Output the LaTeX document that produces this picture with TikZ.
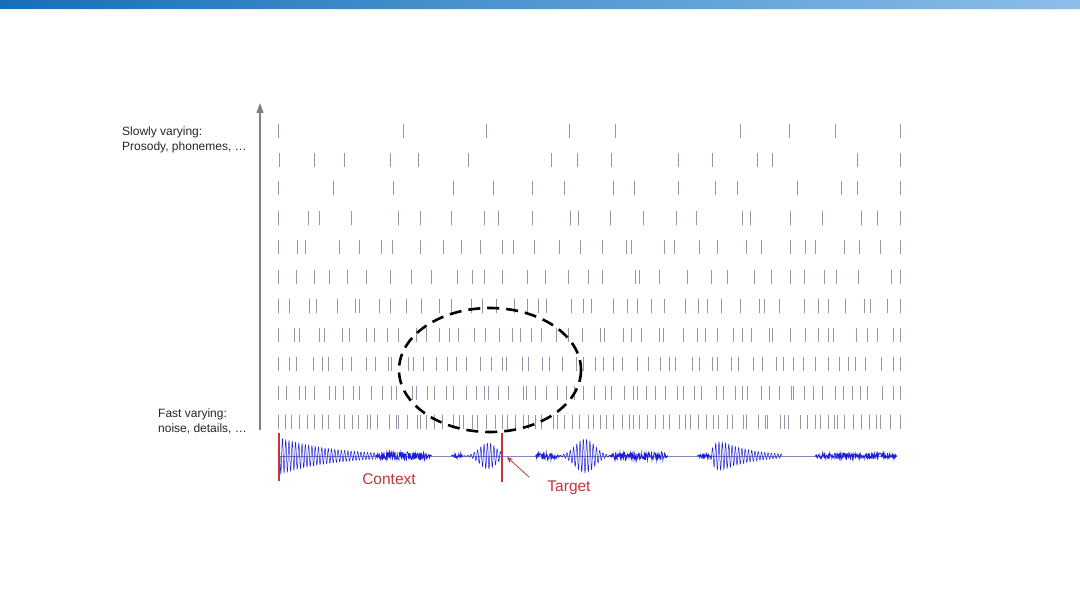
\documentclass[tikz,border=0pt]{standalone}
\usepackage{fontspec}
\setmainfont{Liberation Sans}
\usetikzlibrary{arrows.meta}
\definecolor{barL}{RGB}{22,112,184}
\definecolor{barR}{RGB}{140,190,232}
\definecolor{spikec}{RGB}{150,150,168}
\definecolor{wavec}{RGB}{30,30,215}
\definecolor{basec}{RGB}{130,135,190}
\definecolor{redc}{RGB}{196,52,60}
\definecolor{axisc}{RGB}{128,128,128}
\tikzset{
  spike/.style={draw=spikec, line width=0.85pt},
  osc/.style={draw=wavec, line width=0.5pt},
  noisy/.style={draw=wavec, line width=0.7pt},
  marker/.style={draw=redc, line width=1.6pt},
  lbl/.style={font=\fontsize{12}{15}\selectfont, align=left, inner sep=0pt, text=black!85},
  redlbl/.style={font=\fontsize{15.5}{18}\selectfont, inner sep=0pt, text=redc},
}
\begin{document}
\begin{tikzpicture}[x=1pt,y=-1pt]
\useasboundingbox (0,0) rectangle (1080,607);
\fill[white] (0,0) rectangle (1080,607);
% top bar
\shade[left color=barL, right color=barR] (0,0) rectangle (1080,9);
\fill[cyan!12] (0,9) rectangle (1080,10.5);

% axis
\coordinate (ax0) at (260,430);
\coordinate (ax1) at (260,103);
\draw[axisc, line width=1.2pt, -{Triangle[length=10pt,width=7pt]}] (ax0) -- (ax1);

% labels
\node[lbl, anchor=north west] (slow) at (122,127) {Slowly varying:\\Prosody, phonemes, \dots};
\node[lbl, anchor=north west] (fast) at (158,409) {Fast varying:\\noise, details, \dots};

% spikes: rows 1-3 explicit
\foreach \x in {278,403,486,569,615,740,789,835,900}
  \draw[spike] (\x,124) -- (\x,138);
\foreach \x in {279,314,344,390,418,468,551,577,611,678,712,757,772,857,900}
  \draw[spike] (\x,153) -- (\x,167);
\foreach \x in {278,333,393,453,493,532,564,613,634,678,715,737,797,841,857,900}
  \draw[spike] (\x,181) -- (\x,195);
% rows 4-11 jittered
\pgfmathsetseed{2024}
\foreach \row/\n in {4/21,5/30,6/31,7/42,8/50,9/58,10/66,11/86}{
  \pgfmathsetmacro\yc{131+(\row-1)*29.1}
  \pgfmathsetmacro\stp{610/\n}
  \draw[spike] (278,\yc-7) -- (278,\yc+7);
  \draw[spike] (900,\yc-7) -- (900,\yc+7);
  \foreach \i in {1,...,\n}{
    \pgfmathsetmacro\xx{284+\stp*(\i-0.05-0.9*rnd)}
    \draw[spike] (\xx,\yc-7) -- (\xx,\yc+7);
  }
}

% waveform baseline
\coordinate (w0) at (280,456);
\coordinate (w1) at (897,456);
\draw[basec, line width=0.6pt] (w0) -- (w1);
% oscillations
\draw[osc] plot[domain=280:376, samples=500] (\x,{456+18*exp(-(\x-280)/55)*sin((\x-280)*110)});
\draw[osc] plot[domain=462:501, samples=220] (\x,{456+13*exp(-((\x-488)/12)^2)*sin((\x-462)*110)});
\draw[osc] plot[domain=558:612, samples=300] (\x,{456+17*exp(-((\x-585)/14)^2)*sin((\x-558)*110)});
\draw[osc] plot[domain=710:782, samples=400] (\x,{456+15*(1-exp(-(\x-710)/5))*exp(-(\x-722)/30)*sin((\x-710)*110)});
% noise
\draw[noisy] plot[domain=375:432, samples=160] (\x,{456+4.5*min(1,(\x-375)/6,(432-\x)/6)*rand});
\draw[noisy] plot[domain=451:463, samples=36] (\x,{456+2.5*min(1,(\x-451)/3,(463-\x)/3)*rand});
\draw[noisy] plot[domain=535:560, samples=70] (\x,{456+4*min(1,(\x-535)/3,(560-\x)/6)*rand});
\draw[noisy] plot[domain=610:668, samples=160] (\x,{456+4.5*min(1,(\x-610)/6,(668-\x)/4)*rand});
\draw[noisy] plot[domain=697:712, samples=40] (\x,{456+2.5*min(1,(\x-697)/3,(712-\x)/3)*rand});
\draw[noisy] plot[domain=815:897, samples=220] (\x,{456+3*min(1,(\x-815)/3,(897-\x)/3)*rand});

% ellipse
\draw[black, line width=2.6pt, dash pattern=on 12pt off 7pt] (490,370) ellipse [x radius=91, y radius=62];

% markers
\coordinate (c0) at (279,433);
\coordinate (c1) at (279,481);
\coordinate (t0) at (502,433);
\coordinate (t1) at (502,482);
\draw[marker] (c0) -- (c1);
\draw[marker] (t0) -- (t1);
\node[redlbl] (ctx) at (389,479) {Context};
\node[redlbl] (tgt) at (569,488) {Target};
\coordinate (ar0) at (529,477);
\coordinate (ar1) at (507,457);
\draw[redc, line width=0.8pt, -{Stealth[length=6pt,width=5pt]}] (ar0) -- (ar1);
\end{tikzpicture}
\end{document}
